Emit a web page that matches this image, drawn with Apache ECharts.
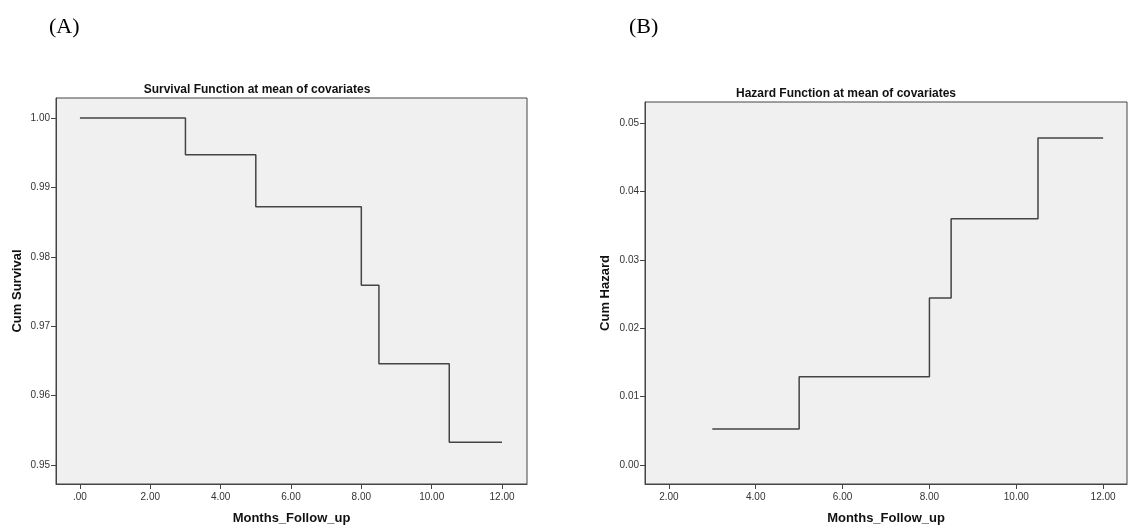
<!DOCTYPE html>
<html>
<head>
<meta charset="utf-8">
<title>Survival / Hazard at mean of covariates</title>
<script src="https://cdn.jsdelivr.net/npm/echarts@6/dist/echarts.min.js"></script>
<style>
  html, body { margin: 0; padding: 0; background: #fff; }
  #main { width: 1135px; height: 530px; }
</style>
</head>
<body>
<div id="main"></div>
<script>
// step points (months, value)
var survMonths = [0, 3, 5, 8, 8.5, 10.5, 12];
var survValues = [1.0, 0.9947, 0.9872, 0.9759, 0.9646, 0.9533, 0.9533];
var hazMonths = [3, 5, 8, 8.5, 10.5, 12];
var hazValues = [0.0053, 0.0129, 0.0244, 0.0360, 0.0478, 0.0478];

// tick labels
var survXTicks = [0, 2, 4, 6, 8, 10, 12];
var survYTicks = [0.95, 0.96, 0.97, 0.98, 0.99, 1.00];
var hazXTicks = [2, 4, 6, 8, 10, 12];
var hazYTicks = [0.00, 0.01, 0.02, 0.03, 0.04, 0.05];

var lineColor = '#444';
var txtColor = '#333';
var font = 'Liberation Sans, Arial, sans-serif';

function pairs(xs, ys) {
  return xs.map(function (x, i) { return [x, ys[i]]; });
}

function fmtX(v) {
  return v === 0 ? '.00' : v.toFixed(2);
}

function xAxisFor(idx, min, max, ticks) {
  return {
    type: 'value',
    gridIndex: idx,
    min: min,
    max: max,
    name: 'Months_Follow_up',
    nameLocation: 'middle',
    nameGap: 28,
    nameTextStyle: { fontFamily: font, fontWeight: 'bold', fontSize: 13, color: '#111' },
    axisLine: { show: true, onZero: false, lineStyle: { color: lineColor } },
    axisTick: { show: true, inside: false, customValues: ticks, length: 5, lineStyle: { color: lineColor } },
    axisLabel: {
      customValues: ticks, margin: 8,
      fontFamily: font, fontSize: 10, color: txtColor,
      formatter: fmtX
    },
    splitLine: { show: false }
  };
}

function yAxisFor(idx, min, max, ticks, name, gap) {
  return {
    type: 'value',
    gridIndex: idx,
    min: min,
    max: max,
    name: name,
    nameLocation: 'middle',
    nameGap: gap,
    nameTextStyle: { fontFamily: font, fontWeight: 'bold', fontSize: 13, color: '#111' },
    axisLine: { show: true, onZero: false, lineStyle: { color: lineColor } },
    axisTick: { show: true, inside: false, customValues: ticks, length: 5, lineStyle: { color: lineColor } },
    axisLabel: {
      customValues: ticks, margin: 6,
      fontFamily: font, fontSize: 10, color: txtColor,
      formatter: function (v) { return v.toFixed(2); }
    },
    splitLine: { show: false }
  };
}

var chart = echarts.init(document.getElementById('main'), null, { renderer: 'canvas' });

var option = {
  animation: false,
  backgroundColor: '#fff',
  title: [
    { text: '(A)', left: 44, top: 11, textStyle: { fontFamily: 'Liberation Serif, Times New Roman, serif', fontSize: 22, fontWeight: 'normal', color: '#000' } },
    { text: '(B)', left: 624, top: 11, textStyle: { fontFamily: 'Liberation Serif, Times New Roman, serif', fontSize: 22, fontWeight: 'normal', color: '#000' } },
    { text: 'Survival Function at mean of covariates', left: 252, textAlign: 'center', top: 79, textStyle: { fontFamily: font, fontSize: 12, fontWeight: 'bold', color: '#111' } },
    { text: 'Hazard Function at mean of covariates', left: 841, textAlign: 'center', top: 83, textStyle: { fontFamily: font, fontSize: 12, fontWeight: 'bold', color: '#111' } }
  ],
  grid: [
    { left: 56, top: 98, width: 471, height: 388, show: true, backgroundColor: '#f0f0f0', borderColor: lineColor, borderWidth: 1 },
    { left: 645, top: 102, width: 482, height: 385, show: true, backgroundColor: '#f0f0f0', borderColor: lineColor, borderWidth: 1 }
  ],
  xAxis: [
    xAxisFor(0, -0.68, 12.71, survXTicks),
    xAxisFor(1, 1.45, 12.55, hazXTicks)
  ],
  yAxis: [
    yAxisFor(0, 0.94728, 1.00287, survYTicks, 'Cum Survival', 32),
    yAxisFor(1, -0.00275, 0.05304, hazYTicks, 'Cum Hazard', 33)
  ],
  series: [
    {
      name: 'Survival',
      type: 'line',
      xAxisIndex: 0, yAxisIndex: 0,
      step: 'end',
      symbol: 'none',
      lineStyle: { color: lineColor, width: 1.5 },
      data: pairs(survMonths, survValues)
    },
    {
      name: 'Hazard',
      type: 'line',
      xAxisIndex: 1, yAxisIndex: 1,
      step: 'end',
      symbol: 'none',
      lineStyle: { color: lineColor, width: 1.5 },
      data: pairs(hazMonths, hazValues)
    }
  ]
};

chart.setOption(option);
</script>
</body>
</html>
